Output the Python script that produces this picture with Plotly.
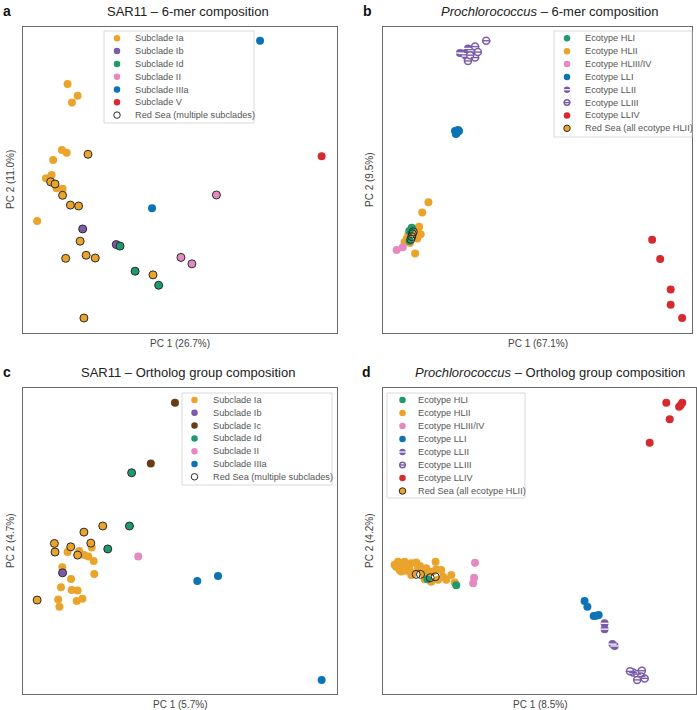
import plotly.graph_objects as go

W, H = 697, 710
FONT = "Liberation Sans, Arial, sans-serif"

ORANGE = "#EBA42B"
PURPLE = "#7A5CA8"
GREEN = "#1F9A6C"
PINK = "#E58AC0"
BLUE = "#0C74B5"
RED = "#D62A2E"
BROWN = "#663D17"
EDGE = "#2a2a2a"

# ---------------- Panel a : SAR11 - 6-mer composition ----------------
A_X = [14.2, 17.4, 15.6, 12.4, 13.9, 9.6, 9.1, 7.3, 10.7, 12.6, 4.5,
       20.7, 8.8, 10.2, 12.6, 15.1, 17.7, 18.2, 13.6, 20.1, 23.0, 41.4, 19.4,
       19.0, 29.7,
       30.9, 35.7, 43.2,
       61.6, 50.3, 53.8,
       75.5, 41.1,
       95.1]
A_Y = [81.4, 77.5, 75.3, 59.8, 58.9, 56.5, 51.6, 50.6, 47.3, 47.1, 36.6,
       58.4, 49.4, 48.7, 45.0, 41.8, 41.5, 30.0, 24.4, 25.4, 24.5, 19.0, 4.9,
       34.0, 28.9,
       28.4, 20.2, 15.6,
       45.1, 24.7, 22.6,
       95.5, 40.8,
       57.8]
A_GRP = ["Ia"] * 23 + ["Ib"] * 2 + ["Id"] * 3 + ["II"] * 3 + ["IIIa"] * 2 + ["V"]
A_RS = [0] * 11 + [1] * 12 + [1, 1] + [1, 1, 1] + [1, 1, 1] + [0, 0] + [0]
A_GROUPS = ["Ia", "Ib", "Id", "II", "IIIa", "V"]
A_LEGEND = ["Subclade Ia", "Subclade Ib", "Subclade Id", "Subclade II",
            "Subclade IIIa", "Subclade V", "Red Sea (multiple subclades)"]

# ---------------- Panel b : Prochlorococcus - 6-mer composition ----------------
B_X = [14.7, 12.7, 11.7, 10.9, 10.0, 8.2, 7.7, 11.1, 12.2, 10.4, 11.3, 8.7, 7.0,
       9.3, 8.5, 8.6,
       4.4, 6.4,
       23.3, 23.9, 24.6, 23.6, 24.3,
       25.9, 27.5, 28.8, 26.9, 24.9,
       33.4, 29.8, 29.8, 27.5, 28.2, 30.7,
       87.1, 89.7, 93.1, 93.1, 96.8,
       9.8, 9.3, 9.0, 9.5]
B_Y = [42.7, 39.4, 34.7, 33.7, 33.1, 32.0, 30.9, 30.9, 32.3, 26.0, 34.3, 29.4, 29.7,
       34.4, 33.3, 30.1,
       27.1, 28.0,
       66.0, 65.4, 66.0, 65.0, 66.3,
       91.3, 93.0, 92.2, 90.5, 91.5,
       95.5, 93.6, 90.0, 88.9, 90.8, 91.8,
       30.5, 24.2, 14.2, 9.2, 4.9,
       33.1, 31.5, 30.6, 32.4]
B_GRP = (["HLII"] * 13 + ["HLI"] * 3 + ["HLIII/IV"] * 2 + ["LLI"] * 5 +
         ["LLII"] * 5 + ["LLIII"] * 6 + ["LLIV"] * 5 + ["RS"] * 4)

# ---------------- Panel c : SAR11 - Ortholog group composition ----------------
C_X = [25.4, 19.4, 10.0, 15.2, 21.6, 10.2, 17.4, 4.5,
       14.2, 17.9, 19.5, 20.8, 21.9, 22.5, 12.5, 22.7, 15.3, 12.1, 15.5, 17.4,
       11.2, 11.6, 17.1, 18.9,
       12.6,
       48.4, 40.7,
       34.6, 33.9, 27.0,
       36.7,
       55.5, 62.1, 95.1]
C_Y = [54.9, 52.9, 49.2, 48.1, 49.3, 46.4, 45.4, 30.7,
       46.4, 46.7, 45.4, 44.9, 47.9, 43.5, 41.4, 39.2, 37.6, 34.9, 34.0, 33.8,
       30.9, 28.5, 30.4, 31.1,
       39.6,
       95.2, 75.3,
       72.3, 54.9, 47.4,
       44.9,
       36.9, 38.6, 4.6]
C_GRP = (["Ia"] * 24 + ["Ib"] + ["Ic"] * 2 + ["Id"] * 3 + ["II"] + ["IIIa"] * 3)
C_RS = [1] * 8 + [0] * 16 + [1] + [0, 0] + [1, 1, 1] + [0] + [0, 0, 0]
C_GROUPS = ["Ia", "Ib", "Ic", "Id", "II", "IIIa"]
C_LEGEND = ["Subclade Ia", "Subclade Ib", "Subclade Ic", "Subclade Id",
            "Subclade II", "Subclade IIIa", "Red Sea (multiple subclades)"]

# ---------------- Panel d : Prochlorococcus - Ortholog group composition ----------------
D_X = [4.8, 5.8, 6.9, 8.0, 9.0, 10.6, 4.2, 5.3, 6.4, 7.4, 8.5, 9.6, 11.2, 12.8,
       13.8, 14.9, 16.8, 17.0, 18.6, 19.2, 20.2, 21.8, 22.9, 15.4, 17.6, 13.3,
       9.0, 5.8, 3.7, 4.5, 6.1, 11.8, 15.7,
       14.2, 23.4,
       29.4, 29.1, 28.8,
       64.4, 65.3, 67.3, 68.1, 68.9,
       70.8, 70.8, 73.3, 74.0,
       79.9, 81.2, 82.7, 82.5, 83.6, 81.2, 78.9,
       90.5, 95.6, 94.6, 95.1, 91.6, 85.2,
       10.6, 12.0, 15.1, 16.7]
D_Y = [43.2, 42.7, 43.2, 42.2, 42.7, 43.0, 41.6, 40.5, 41.1, 40.3, 40.5, 39.4,
       41.1, 39.4, 41.1, 40.0, 43.2, 40.8, 40.5, 38.3, 37.3, 38.9, 36.4, 36.7,
       37.3, 37.5, 38.9, 40.0, 42.2, 42.5, 41.8, 41.8, 39.9,
       37.5, 35.5,
       42.9, 38.0, 36.2,
       30.4, 28.5, 25.5, 25.6, 25.8,
       23.1, 21.2, 16.3, 15.7,
       7.0, 6.5, 7.6, 5.7, 5.1, 4.6, 7.4,
       95.2, 95.2, 93.9, 94.4, 89.8, 82.1,
       39.1, 39.1, 38.0, 38.3]
D_GRP = (["HLII"] * 33 + ["HLI"] * 2 + ["HLIII/IV"] * 3 + ["LLI"] * 5 +
         ["LLII"] * 4 + ["LLIII"] * 7 + ["LLIV"] * 6 + ["RS"] * 4)

PRO_GROUPS = ["HLII", "HLI", "HLIII/IV", "LLI", "LLII", "LLIII", "LLIV", "RS"]
PRO_LEG_CODES = ["HLI", "HLII", "HLIII/IV", "LLI", "LLII", "LLIII", "LLIV", "RS"]
PRO_LEGEND = ["Ecotype HLI", "Ecotype HLII", "Ecotype HLIII/IV", "Ecotype LLI",
              "Ecotype LLII", "Ecotype LLIII", "Ecotype LLIV",
              "Red Sea (all ecotype HLII)"]

SAR_COLORS = {"Ia": ORANGE, "Ib": PURPLE, "Ic": BROWN, "Id": GREEN, "II": PINK,
              "IIIa": BLUE, "V": RED}
PRO_COLORS = {"HLI": GREEN, "HLII": ORANGE, "HLIII/IV": PINK, "LLI": BLUE,
              "LLII": PURPLE, "LLIII": PURPLE, "LLIV": RED}

TITLES = ["SAR11 \u2013 6-mer composition",
          "<i>Prochlorococcus</i> \u2013 6-mer composition",
          "SAR11 \u2013 Ortholog group composition",
          "<i>Prochlorococcus</i> \u2013 Ortholog group composition"]
XTITLES = ["PC 1 (26.7%)", "PC 1 (67.1%)", "PC 1 (5.7%)", "PC 1 (8.5%)"]
YTITLES = ["PC 2 (11.0%)", "PC 2 (9.5%)", "PC 2 (4.7%)", "PC 2 (4.2%)"]
LETTERS = ["a", "b", "c", "d"]

# ---------------- layout geometry (pixels) ----------------
BOXES = [(23, 27, 337, 333), (383, 27, 692, 333), (23, 388, 337, 694), (383, 388, 696, 694)]
TITLE_POS = [(188, 11), (550, 11), (188, 372), (550, 372)]
LETTER_POS = [(1, 11), (361, 11), (1, 372), (360, 372)]
YT_X = [10, 369, 10, 369]
LEG_BOX = [(104, 31, 254, 123, 13, 29, 38.3, 12.8),
           (554, 31, 692, 137, 13, 29, 38.3, 12.86),
           (182, 393, 332, 485, 12.5, 28.7, 400, 12.8),
           (387, 393, 525, 498, 15.5, 29, 400, 13.0)]

fig = go.Figure()
shapes = []
annotations = []


def add_marks(x, y, kind, color, xa, ya, size, rs=False):
    if not x:
        return
    base = dict(x=x, y=y, mode="markers", xaxis=xa, yaxis=ya,
                showlegend=False, hoverinfo="skip")
    if kind == "solid":
        line = dict(width=1.0, color=EDGE) if rs else dict(width=0)
        fig.add_trace(go.Scatter(**base, marker=dict(symbol="circle", size=size,
                                                     color=color, line=line)))
    elif kind == "band":  # purple circle with white band
        fig.add_trace(go.Scatter(**base, marker=dict(symbol="circle", size=size,
                                                     color=color, line=dict(width=0))))
        fig.add_trace(go.Scatter(**base, marker=dict(symbol="line-ew", size=size * 0.75,
                                                     color="white",
                                                     line=dict(width=1.2, color="white"))))
    elif kind == "halfopen":  # ring with band
        fig.add_trace(go.Scatter(**base, marker=dict(symbol="circle", size=size - 1,
                                                     color="white",
                                                     line=dict(width=1.5, color=color))))
        fig.add_trace(go.Scatter(**base, marker=dict(symbol="line-ew", size=size * 0.75,
                                                     color=color,
                                                     line=dict(width=1.4, color=color))))
    elif kind == "open":
        fig.add_trace(go.Scatter(**base, marker=dict(symbol="circle-open", size=size,
                                                     color=EDGE, line=dict(width=1.0))))


def pro_kind(g):
    return {"LLII": "band", "LLIII": "halfopen", "RS": "open"}.get(g, "solid")


for k, (l, t, r, b) in enumerate(BOXES):
    n = "" if k == 0 else str(k + 1)
    fig.update_layout(**{
        "xaxis" + n: dict(domain=[l / W, r / W], range=[0, 100], anchor="y" + n,
                          showticklabels=False, ticks="", showgrid=False, zeroline=False,
                          showline=True, mirror=True, linecolor="#6a6a6a", linewidth=1.3,
                          fixedrange=True),
        "yaxis" + n: dict(domain=[1 - b / H, 1 - t / H], range=[0, 100], anchor="x" + n,
                          showticklabels=False, ticks="", showgrid=False, zeroline=False,
                          showline=True, mirror=True, linecolor="#6a6a6a", linewidth=1.3,
                          fixedrange=True),
    })

# panel a / c (SAR11)
for idx_panel, (X, Y, G, R, groups) in [(0, (A_X, A_Y, A_GRP, A_RS, A_GROUPS)),
                                        (2, (C_X, C_Y, C_GRP, C_RS, C_GROUPS))]:
    n = "" if idx_panel == 0 else str(idx_panel + 1)
    for g in groups:
        for rs in (0, 1):
            ii = [i for i in range(len(X)) if G[i] == g and R[i] == rs]
            add_marks([X[i] for i in ii], [Y[i] for i in ii], "solid", SAR_COLORS[g],
                      "x" + n, "y" + n, 8, rs=bool(rs))

# panel b / d (Prochlorococcus)
for idx_panel, (X, Y, G) in [(1, (B_X, B_Y, B_GRP)), (3, (D_X, D_Y, D_GRP))]:
    n = str(idx_panel + 1)
    for g in PRO_GROUPS:
        ii = [i for i in range(len(X)) if G[i] == g]
        add_marks([X[i] for i in ii], [Y[i] for i in ii], pro_kind(g),
                  PRO_COLORS.get(g, EDGE), "x" + n, "y" + n, 8)

# full-page overlay axis in pixel units (for legends and labels)
fig.update_layout(
    xaxis5=dict(domain=[0, 1], range=[0, W], visible=False, anchor="y5", fixedrange=True),
    yaxis5=dict(domain=[0, 1], range=[H, 0], visible=False, anchor="x5", fixedrange=True),
)

legend_sets = [
    [(SAR_COLORS[g], "solid", False) for g in A_GROUPS] + [("white", "solid", True)],
    [(PRO_COLORS.get(g, ORANGE), pro_kind(g) if g != "RS" else "solid", g == "RS")
     for g in PRO_LEG_CODES],
    [(SAR_COLORS[g], "solid", False) for g in C_GROUPS] + [("white", "solid", True)],
    [(PRO_COLORS.get(g, ORANGE), pro_kind(g) if g != "RS" else "solid", g == "RS")
     for g in PRO_LEG_CODES],
]
legend_texts = [A_LEGEND, PRO_LEGEND, C_LEGEND, PRO_LEGEND]

for k in range(4):
    l, t, r, b, mdx, tdx, y0, dy = LEG_BOX[k]
    shapes.append(dict(type="rect", xref="x5", yref="y5", x0=l, x1=r, y0=t, y1=b,
                       line=dict(color="#d0d0d0", width=0.8), fillcolor="white",
                       layer="below"))
    for i, ((col, kind, rs), txt) in enumerate(zip(legend_sets[k], legend_texts[k])):
        yy = y0 + i * dy
        add_marks([l + mdx], [yy], kind, col, "x5", "y5", 6.5, rs=rs)
        annotations.append(dict(x=l + tdx, y=yy, xref="x5", yref="y5", text=txt,
                                showarrow=False, xanchor="left", yanchor="middle",
                                font=dict(family=FONT, size=9.2, color="#555555")))

for k in range(4):
    l, t, r, b = BOXES[k]
    tx, ty = TITLE_POS[k]
    annotations.append(dict(x=tx, y=ty, xref="x5", yref="y5", text=TITLES[k],
                            showarrow=False, xanchor="center", yanchor="middle",
                            font=dict(family=FONT, size=13, color="#222222")))
    lx, ly = LETTER_POS[k]
    annotations.append(dict(x=lx, y=ly, xref="x5", yref="y5", text="<b>%s</b>" % LETTERS[k],
                            showarrow=False, xanchor="left", yanchor="middle",
                            font=dict(family=FONT, size=14, color="#111111")))
    annotations.append(dict(x=(l + r) / 2, y=b + 10, xref="x5", yref="y5", text=XTITLES[k],
                            showarrow=False, xanchor="center", yanchor="middle",
                            font=dict(family=FONT, size=10, color="#444444")))
    annotations.append(dict(x=YT_X[k], y=(t + b) / 2, xref="x5", yref="y5", text=YTITLES[k],
                            showarrow=False, xanchor="center", yanchor="middle",
                            textangle=-90,
                            font=dict(family=FONT, size=10, color="#444444")))

fig.update_layout(width=W, height=H, margin=dict(l=0, r=0, t=0, b=0),
                  paper_bgcolor="white", plot_bgcolor="rgba(0,0,0,0)",
                  showlegend=False, shapes=shapes, annotations=annotations,
                  font=dict(family=FONT))

fig.write_html("out.html", config={"displayModeBar": False},
               post_script="document.body.style.margin='0';document.body.style.overflow='hidden';")
